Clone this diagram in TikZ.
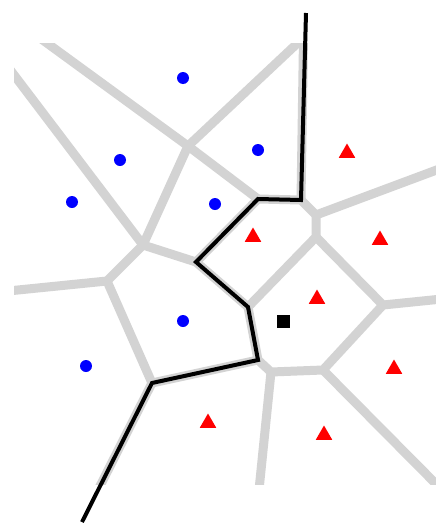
\documentclass[tikz,border=0pt]{standalone}
\usepackage{xcolor}
\usepackage{tikz}
\usetikzlibrary{shapes.geometric}
\definecolor{cellgray}{RGB}{211,211,211}
\definecolor{ptblue}{RGB}{0,0,255}
\definecolor{ptred}{RGB}{255,0,0}

\begin{document}
\begin{tikzpicture}[x=1pt, y=-1pt,
    edge/.style={cellgray, line width=9pt, line cap=round, line join=round},
    border/.style={black, line width=4pt, line join=miter},
    dot/.style={circle, fill=ptblue, inner sep=0pt, minimum size=12pt},
    tri/.style={regular polygon, regular polygon sides=3, fill=ptred,
                inner sep=0pt, minimum size=19pt},
    query/.style={rectangle, fill=black, inner sep=0pt, minimum size=13pt}
  ]
    \useasboundingbox (0,0) rectangle (436,525);

    % cell vertices
    \coordinate (v1) at (188,146);
    \coordinate (v2) at (143,245);
    \coordinate (v3) at (258,199);
    \coordinate (v4) at (301,200);
    \coordinate (v5) at (316,215);
    \coordinate (v6) at (316,237);
    \coordinate (v7) at (196,262);
    \coordinate (v8) at (107,281);
    \coordinate (v9) at (152,383);
    \coordinate (v10) at (248,307);
    \coordinate (v11) at (258,360);
    \coordinate (v12) at (271,372);
    \coordinate (v13) at (323,370);
    \coordinate (v14) at (383,305);
    % open ends
    \coordinate (e1) at (40,38);
    \coordinate (e2) at (303,38);
    \coordinate (e3) at (303.5,38);
    \coordinate (e4) at (8,67);
    \coordinate (e5) at (8,291);
    \coordinate (e6) at (98,490);
    \coordinate (e7) at (259,490);
    \coordinate (e8) at (442,490);
    \coordinate (e9) at (442,299);
    \coordinate (e10) at (442,168);
    \coordinate (top) at (306,13);
    \coordinate (bot) at (82,522);

    % voronoi edges
    \begin{scope}
      \clip (14,43) rectangle (436,484);
      \draw[edge] (e1) -- (v1) -- (e2);
      \draw[edge] (v1) -- (v2) -- (e4);
      \draw[edge] (v1) -- (v3);
      \draw[edge] (v2) -- (v8) -- (e5);
      \draw[edge] (v2) -- (v7);
      \draw[edge] (v8) -- (v9) -- (e6);
      \draw[edge] (v7) -- (v3) -- (v4) -- (e3);
      \draw[edge] (v7) -- (v10) -- (v11) -- (v9);
      \draw[edge] (v4) -- (v5) -- (e10);
      \draw[edge] (v5) -- (v6) -- (v10);
      \draw[edge] (v6) -- (v14) -- (e9);
      \draw[edge] (v11) -- (v12) -- (v13) -- (v14);
      \draw[edge] (v12) -- (e7);
      \draw[edge] (v13) -- (e8);
    \end{scope}

    % decision boundary
    \draw[border] (top) -- (v4) -- (v3) -- (v7) -- (v10) -- (v11) -- (v9) -- (bot);

    % blue class
    \foreach \px/\py [count=\i] in {183/78, 120/160, 258/150, 72/202,
                                    215/204, 183/321, 86/366}
      \node[dot] (b\i) at (\px,\py) {};

    % red class
    \foreach \px/\py [count=\i] in {347/153, 253/237, 380/240, 317/299,
                                    394/369, 208/423, 324/435}
      \node[tri] (r\i) at (\px,\py) {};

    \node[query] (q) at (283,321) {};
  \end{tikzpicture}
\end{document}
